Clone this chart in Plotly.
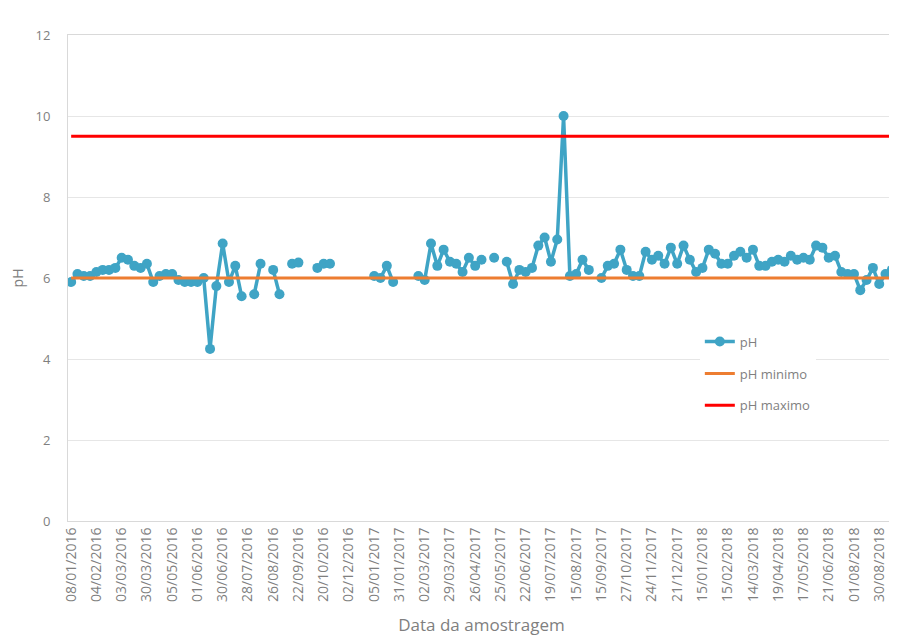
import plotly.graph_objects as go

# Tick labels (every 4th sample on the category axis)
tick_labels = [
    "08/01/2016", "04/02/2016", "03/03/2016", "30/03/2016", "05/05/2016", "01/06/2016",
    "30/06/2016", "28/07/2016", "26/08/2016", "22/09/2016", "20/10/2016", "02/12/2016",
    "05/01/2017", "31/01/2017", "02/03/2017", "29/03/2017", "26/04/2017", "25/05/2017",
    "22/06/2017", "19/07/2017", "15/08/2017", "15/09/2017", "27/10/2017", "24/11/2017",
    "21/12/2017", "15/01/2018", "15/02/2018", "14/03/2018", "19/04/2018", "17/05/2018",
    "21/06/2018", "01/08/2018", "30/08/2018",
]
tick_step = 4

# pH readings per sample (None = no sample / gap)
ph_values = [
    5.9, 6.1, 6.05, 6.05, 6.15, 6.2, 6.2, 6.25, 6.5, 6.45,
    6.3, 6.25, 6.35, 5.9, 6.05, 6.1, 6.1, 5.95, 5.9, 5.9,
    5.9, 6.0, 4.25, 5.8, 6.85, 5.9, 6.3, 5.55, None, 5.6,
    6.35, None, 6.2, 5.6, None, 6.35, 6.38, None, None, 6.25,
    6.35, 6.35, None, None, None, None, None, None, 6.05, 6.0,
    6.3, 5.9, None, None, None, 6.05, 5.95, 6.85, 6.3, 6.7,
    6.4, 6.35, 6.15, 6.5, 6.3, 6.45, None, 6.5, None, 6.4,
    5.85, 6.2, 6.15, 6.25, 6.8, 7.0, 6.4, 6.95, 10.0, 6.05,
    6.1, 6.45, 6.2, None, 6.0, 6.3, 6.35, 6.7, 6.2, 6.05,
    6.05, 6.65, 6.45, 6.55, 6.35, 6.75, 6.35, 6.8, 6.45, 6.15,
    6.25, 6.7, 6.6, 6.35, 6.35, 6.55, 6.65, 6.5, 6.7, 6.3,
    6.3, 6.4, 6.45, 6.4, 6.55, 6.45, 6.5, 6.45, 6.8, 6.75,
    6.5, 6.55, 6.15, 6.1, 6.1, 5.7, 5.95, 6.25, 5.85, 6.1,
    6.2,
]
ph_min = 6.0
ph_max = 9.5

n = len(ph_values)
x_idx = list(range(n))
tickvals = [i * tick_step for i in range(len(tick_labels))]

grey = "#7f7f7f"
font_family = "Open Sans, DejaVu Sans, sans-serif"

fig = go.Figure()
fig.add_trace(go.Scatter(
    x=x_idx, y=ph_values, mode="lines+markers", name="pH",
    line=dict(color="#3fa4c5", width=3.5),
    marker=dict(color="#3fa4c5", size=10),
    connectgaps=False, legendgroup="a",
))
fig.add_trace(go.Scatter(
    x=x_idx, y=[ph_min] * n, mode="lines", name="pH minimo",
    line=dict(color="#ed7d31", width=3), legendgroup="b",
))
fig.add_trace(go.Scatter(
    x=x_idx, y=[ph_max] * n, mode="lines", name="pH maximo",
    line=dict(color="#ff0000", width=3), legendgroup="c",
))

fig.update_layout(
    width=889, height=628,
    margin=dict(l=60, r=2, t=27, b=115, autoexpand=False),
    paper_bgcolor="white", plot_bgcolor="white",
    font=dict(family=font_family, color=grey, size=13),
    showlegend=True,
    legend=dict(
        x=0.764, y=0.40, xanchor="left", yanchor="top",
        bgcolor="rgba(255,255,255,1)", borderwidth=0,
        font=dict(size=13, color=grey),
        tracegroupgap=12,
    ),
    xaxis=dict(
        range=[-0.5, n - 0.5], automargin=False,
        tickmode="array", tickvals=tickvals, ticktext=tick_labels,
        tickangle=-90, tickfont=dict(size=14, color=grey),
        showgrid=False, zeroline=False,
        showline=True, linecolor="#d9d9d9", linewidth=1, mirror=True,
        ticks="",
        title=dict(text="Data da amostragem", font=dict(size=17, color=grey), standoff=21),
    ),
    yaxis=dict(
        range=[0, 12], dtick=2, tick0=0, automargin=False,
        tickfont=dict(size=13, color=grey),
        showgrid=True, gridcolor="#e6e6e6", gridwidth=1,
        zeroline=False,
        showline=True, linecolor="#d9d9d9", linewidth=1, mirror=True,
        ticks="", ticklabelstandoff=14,
        title=dict(text="pH", font=dict(size=14, color=grey), standoff=16),
    ),
)

fig.write_html("out.html")
